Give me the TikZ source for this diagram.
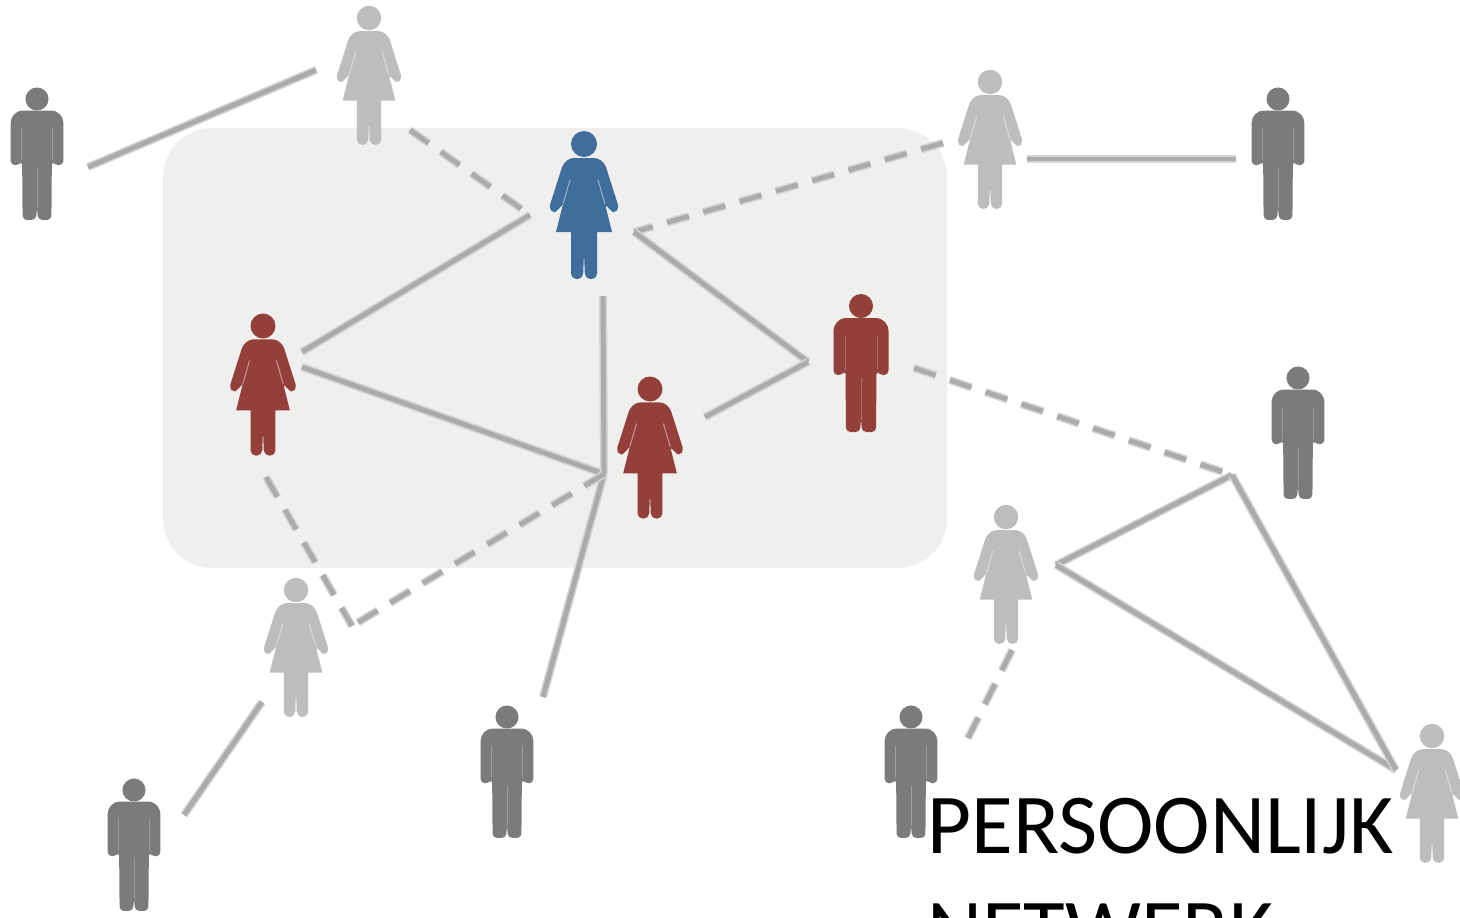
\documentclass[tikz,border=0pt]{standalone}
\usepackage{fontspec}
\setmainfont{Carlito}
\usetikzlibrary{positioning,calc}

\definecolor{panelgrey}{HTML}{EFEFEE}
\definecolor{linegrey}{HTML}{ABABA9}
\definecolor{shadegrey}{HTML}{D4D4D2}
\definecolor{darkgrey}{HTML}{7B7B7B}
\definecolor{lightgrey}{HTML}{BDBDBD}
\definecolor{bluefig}{HTML}{3F6D9C}
\definecolor{redfig}{HTML}{93403A}

\tikzset{
  man/.pic={
    \path[pic actions] (0,0) circle[radius=12];
    \path[pic actions,rounded corners=2.5pt] (-20,12) -- (20,12) -- (27.5,20) -- (27.5,69) -- (18,69) -- (15.5,64) -- (15,126)
      -- (1,126) -- (0,112) -- (-1,126) -- (-15,126) -- (-15.5,64) -- (-18,69) -- (-27.5,69) -- (-27.5,20) -- cycle;
    \draw[white,opacity=.25,line width=.5pt] (-16,30) -- (-16,64) (16,30) -- (16,64) (0,72) -- (0,114);
  },
  woman/.pic={
    \path[pic actions] (0,0) circle[radius=13];
    \path[pic actions,rounded corners=2pt] (-14,14) -- (14,14) -- (21,20) -- (35,64) -- (31,69) -- (27,67) -- (21,60) [sharp corners] -- (28,88) -- (13,88)
      [rounded corners=3pt] -- (13,135) -- (1,135) [sharp corners] -- (0,108) [rounded corners=3pt] -- (-1,135) -- (-13,135) [sharp corners] -- (-13,88) -- (-28,88)
      -- (-21,60) [rounded corners=2pt] -- (-27,67) -- (-31,69) -- (-35,64) -- (-21,20) -- cycle;
    \draw[white,opacity=.45,line width=.6pt] (-14,36) -- (-21,60) (14,36) -- (21,60);
  }
}

\begin{document}
\begin{tikzpicture}[x=0.02cm, y=-0.02cm]
    \tikzstyle{solidlink}=[draw=linegrey,line width=2.8pt,preaction={draw=shadegrey,line width=4.6pt}]
    \tikzstyle{dashlink}=[draw=linegrey,line width=2.8pt,dash pattern=on 13pt off 8.5pt,preaction={draw=shadegrey,line width=4.6pt,dash pattern=on 13pt off 8.5pt}]
    \tikzstyle{banner}=[text=black,anchor=base west,align=left,inner sep=0pt,font=\fontsize{48.5pt}{59.5pt}\selectfont]
    \useasboundingbox (0,0) rectangle (1460,917);
    \clip (0,0) rectangle (1460,917);
    \fill[panelgrey,rounded corners=28pt] (163,128) rectangle (947,568);

    % joints and loose ends of the links
    \coordinate (topleftA)  at (88,167);
    \coordinate (topleftB)  at (316,70);
    \coordinate (topdash)   at (410,130);
    \coordinate (blueL)     at (530,215);
    \coordinate (redL)      at (302,352);
    \coordinate (redLb)     at (302,367);
    \coordinate (blueR)     at (634,232);
    \coordinate (topdashR)  at (943,143);
    \coordinate (pairA)     at (1027,159);
    \coordinate (pairB)     at (1236,159);
    \coordinate (redR)      at (808,362);
    \coordinate (redM)      at (705,417);
    \coordinate (hub)       at (604,474);
    \coordinate (blueB)     at (603,296);
    \coordinate (manB)      at (543,697);
    \coordinate (redLd)     at (266,477);
    \coordinate (kink)      at (352,626);
    \coordinate (lowA)      at (262,702);
    \coordinate (lowB)      at (184,815);
    \coordinate (redRd)     at (914,368);
    \coordinate (triT)      at (1232,475);
    \coordinate (triL)      at (1056,565);
    \coordinate (triB)      at (1396,770);
    \coordinate (lowdashA)  at (1012,650);
    \coordinate (lowdashB)  at (962,750);

    \path
(topleftA) edge[solidlink]     (topleftB)
(topdash)  edge[dashlink]      (blueL)
(blueL)    edge[solidlink]     (redL)
(topdashR) edge[dashlink]      (blueR)
(blueR)    edge[solidlink]     (redR)
(redR)     edge[solidlink]     (redM)
(pairA)    edge[solidlink]     (pairB)
(redLb)    edge[solidlink]     (hub)
(blueB)    edge[solidlink]     (hub)
(hub)      edge[solidlink]     (manB)
(redLd)    edge[dashlink]      (kink)
(hub)      edge[dashlink]      (kink)
(lowA)     edge[solidlink]     (lowB)
(redRd)    edge[dashlink]      (triT)
(triT)     edge[solidlink]     (triL)
(triL)     edge[solidlink]     (triB)
(triB)     edge[solidlink]     (triT)
(lowdashA) edge[dashlink]      (lowdashB);

    % the people, at their heads
    \pic[fill=bluefig]                 (ego)   at (584,144)  {woman};
    \pic[fill=redfig,scale=.96]        (alterA) at (263,326) {woman};
    \pic[fill=redfig,scale=.96]        (alterB) at (650,389) {woman};
    \pic[fill=redfig]                  (alterC) at (861,306) {man};
    \pic[fill=lightgrey,scale=.94]     (wA)    at (369,18)   {woman};
    \pic[fill=lightgrey,scale=.94]     (wB)    at (990,82)   {woman};
    \pic[fill=lightgrey,scale=.94]     (wC)    at (1006,517) {woman};
    \pic[fill=lightgrey,scale=.94]     (wD)    at (296,590)  {woman};
    \pic[fill=lightgrey,scale=.94]     (wE)    at (1432,736) {woman};
    \pic[fill=darkgrey,scale=.96]      (mA)    at (37,99)    {man};
    \pic[fill=darkgrey,scale=.96]      (mB)    at (1278,99)  {man};
    \pic[fill=darkgrey,scale=.96]      (mC)    at (1298,378) {man};
    \pic[fill=darkgrey,scale=.96]      (mD)    at (134,790)  {man};
    \pic[fill=darkgrey,scale=.96]      (mE)    at (507,717)  {man};
    \pic[fill=darkgrey,scale=.96]      (mF)    at (911,717)  {man};

    \node[banner] (title) at (927,958) {PERSOONLIJK\\NETWERK};
\end{tikzpicture}
\end{document}
